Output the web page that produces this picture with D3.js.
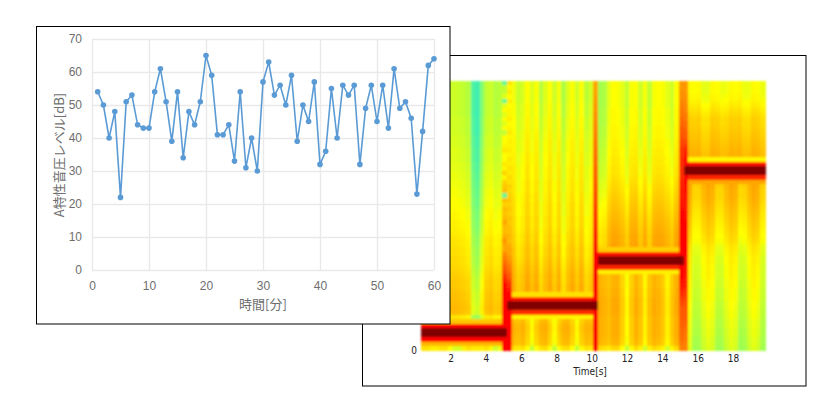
<!DOCTYPE html>
<html>
<head>
<meta charset="utf-8">
<script src="https://cdn.jsdelivr.net/npm/d3@7"></script>
<style>
  html, body { margin: 0; padding: 0; background: #fff; }
  svg { display: block; }
  text { font-family: "Noto Sans CJK JP", "Noto Sans", sans-serif; }
</style>
</head>
<body>
<div id="content"></div>
<script>
// Line chart: A-weighted level per minute
const minutes = d3.range(1, 61);
const levels = [54, 50, 40, 48, 22, 51, 53, 44, 43, 43, 54, 61, 51, 39, 54, 34, 48, 44, 51, 65,
                59, 41, 41, 44, 33, 54, 31, 40, 30, 57, 63, 53, 56, 50, 59, 39, 50, 45, 57, 32,
                36, 55, 40, 56, 53, 56, 32, 49, 56, 45, 56, 43, 61, 49, 51, 46, 23, 42, 62, 64];
const minuteTicks = [0, 10, 20, 30, 40, 50, 60];
const levelTicks = [0, 10, 20, 30, 40, 50, 60, 70];

// Spectrogram, read by eye. Levels run 0 (teal) to 8 (dark red), rows run bottom to top
const timeTicks = [2, 4, 6, 8, 10, 12, 14, 16, 18];
const heatStops = [0, 1, 2, 3, 4, 5, 6, 7, 8];
const heatColors = ['#40f0b0', '#80ff70', '#c0ff30', '#ffff00', '#ffd000', '#ffa500', '#ff5a00', '#ff0000', '#800000'];

const part1Rows = [3.6, 4.6, 7, 8, 8, 7, 4.2, 3.4, 4.3, 4.4, 4.3, 4.2, 4.2, 4.1, 4, 4, 3.9, 3.8, 3.7, 3.6,
                   3.6, 3.5, 3.5, 3.4, 3.4, 3.3, 3.2, 3.1, 3.1, 3, 3, 2.9, 2.8, 2.8, 2.7, 2.7, 2.6, 2.6, 2.5, 2.5,
                   2.4, 2.4, 2.3, 2.3, 2.3, 2.2, 2.2, 2.2, 2.1, 2.1, 2.1, 2.1, 2, 2, 2, 2, 2, 2, 2, 2];
const part1Low = [0, 0, -0.3, -0.3, 0, 0, -0.6, -1.2, -1.2, -0.3, 0, -0.2, -0.2, -0.3, 0, -0.5, -1.4, -0.8];
const part1High = [0, 0, 0.2, 0, 0, 0, 0.1, 0.2, 0.1, 0, -0.2, -1.8, -2.1, -1, 0, 0.2, -0.2, -0.1];

const part2Rows = [3.6, 4.4, 4.5, 4.6, 4.7, 4.7, 4.5, 3.2, 6.5, 8, 8, 6.8, 3.6, 4.6, 4.6, 4.5, 4.5, 4.4, 4.3, 4.2,
                   4.1, 4, 4, 3.9, 3.8, 3.8, 3.7, 3.6, 3.6, 3.6, 3.5, 3.5, 3.5, 3.4, 3.4, 3.3, 3.3, 3.3, 3.2, 3.2,
                   3.2, 3.1, 3.1, 3.1, 3, 3, 3, 2.9, 2.9, 2.8, 2.8, 2.8, 2.7, 2.7, 2.7, 2.6, 2.6, 2.6, 2.6, 2.6];
const part2Low = [0, -0.2, 0.1, -0.6, -1.6, -0.6, 0, 0.1, -0.6, -1.6, -0.6, 0, 0.1, -0.6, -1.6, -0.5, 0, -0.1];
const part2High = [0.2, -0.5, -0.2, 0.4, -0.2, 0.3, -0.8, -0.1, 0.4, -0.4, 0.3, -0.9, -0.1, 0.3, -0.4, 0.3, -0.7, -0.3];

const part3Rows = [3.8, 4.6, 4.7, 4.8, 4.8, 4.8, 4.8, 4.8, 4.9, 4.9, 4.9, 4.9, 4.8, 4.8, 4.7, 4.7, 4.7, 3.3, 6.6, 8,
                   8, 6.8, 4, 5, 4.9, 4.9, 4.8, 4.7, 4.6, 4.5, 4.4, 4.3, 4.2, 4.1, 4, 3.9, 3.8, 3.7, 3.6, 3.5,
                   3.5, 3.4, 3.4, 3.3, 3.3, 3.2, 3.2, 3.1, 3.1, 3.1, 3, 3, 3, 3, 2.9, 2.9, 2.9, 2.9, 2.9, 2.9];
const part3Low = [0, -0.2, -0.4, 0, 0, -0.8, -1.8, -0.7, 0, -0.5, -1.6, -0.5, 0, -0.2, -0.6, -1.5, -0.6, 0];
const part3High = [-1.4, -1.2, -0.3, 0.1, 0, -0.3, -0.9, 0, 0.1, -0.7, 0, -0.9, 0, 0.1, 0, -0.3, -0.7, 0.1];

const part4Rows = [2.3, 2.4, 2.4, 2.5, 2.5, 2.6, 2.6, 2.7, 2.7, 2.8, 2.8, 2.9, 2.9, 2.9, 3, 3, 3.1, 3.1, 3.1, 3.2,
                   3.2, 3.3, 3.4, 3.5, 3.7, 3.8, 3.9, 4, 4.1, 4.2, 4.3, 4.4, 4.5, 4.6, 4.7, 4.7, 4.8, 5, 6.6, 8,
                   8, 6.8, 3.2, 4.7, 4.6, 4.5, 4.4, 4.3, 4.2, 4.1, 4, 4, 3.8, 3.6, 3.4, 3.2, 3.1, 3, 3, 3];
const part4Low = [0.2, -0.8, -0.8, -0.2, 0.2, 0, -0.8, -0.8, -0.2, 0.2, 0, -0.9, -0.8, -0.2, 0.2, 0, -0.8];
const part4High = [0.1, 0, 0.1, -0.4, -0.4, 0.1, 0, -0.3, -0.2, 0.1, 0, 0.1, -0.3, -0.3, 0.1, 0, -0.3];

// Columns at the tone changes
const change1a = [7, 7, 7, 8, 8, 7, 7, 7, 7, 7, 7, 7, 7, 7, 7, 6.7, 6.5, 6.2, 6, 5.8,
                  5.6, 5.4, 5, 5, 5.2, 4.8, 4.5, 4.5, 5, 4.5, 4.3, 4.5, 4, 4.5, 0.5, 4.5, 4.2, 4, 3.2, 4,
                  3.2, 3.5, 3, 3, 3.5, 3.2, 3, 3, 2, 3, 2.5, 3, 2.5, 3, 2.5, 0.5, 2.5, 2, 2, 0.5];
const change1b = [7, 7, 7, 7, 7, 7, 7, 7, 7, 8, 8, 7, 7, 6.8, 6.5, 6.3, 6, 5.8, 5.6, 5.4,
                  5.2, 5, 5, 4.8, 4.5, 4.6, 4.4, 4.4, 4.2, 4.3, 4, 4.2, 4, 4.2, 4, 3.8, 4, 3.6, 3.8, 3.4,
                  3.6, 3.3, 3.5, 3.2, 3.4, 3.2, 3.3, 3.1, 3.4, 3.2, 3, 3.4, 3.1, 3.2, 3, 3.4, 3, 3.4, 3.1, 3.6];
const change2 = [7, 7, 7, 7, 7, 7, 7, 7, 7, 8, 8, 7, 7, 7, 7, 7, 7, 7, 7, 7,
                 7, 7, 6.8, 6.8, 6.7, 6.7, 6.6, 6.5, 6.5, 6.4, 6.4, 6.3, 6.3, 6.2, 6.2, 6.1, 6.1, 6, 6, 5.9,
                 5.9, 5.8, 5.8, 5.7, 5.7, 5.6, 5.6, 5.5, 5.5, 5.4, 5.4, 5.3, 5.3, 5.2, 5.2, 5.1, 5.1, 5, 5, 5];
const change3a = [5.5, 5.6, 5.7, 5.8, 5.8, 5.9, 5.9, 6, 6, 6, 6.2, 6.3, 6.5, 6.6, 6.8, 6.9, 7, 7, 7, 8,
                  8, 7, 7, 7, 7, 7, 7, 7, 7, 7, 7, 6.9, 6.8, 6.8, 6.7, 6.7, 6.6, 6.6, 6.5, 6.5,
                  6.5, 6.5, 6.5, 6.4, 6.4, 6.3, 6.2, 6.1, 6, 6, 5.8, 5.8, 5.6, 5.6, 5.5, 5.4, 5.3, 5.3, 5.2, 5.2];
const change3b = [5.5, 5.5, 5.6, 5.6, 5.7, 5.8, 5.9, 6, 6, 6, 6.1, 6.2, 6.3, 6.4, 6.6, 6.6, 6.7, 6.8, 6.8, 6.9,
                  6.9, 7, 7, 7, 7, 7, 7, 7, 7, 6.9, 6.9, 6.8, 6.8, 6.8, 6.8, 6.9, 6.9, 7, 7, 8,
                  8, 7, 7, 6.8, 6.6, 6.4, 6.2, 6, 6, 5.8, 5.8, 5.6, 5.6, 5.4, 5.4, 5.3, 5.3, 5.2, 5.2, 5.2];

let width = 840, height = 400;

let svg = d3.select('#content')
            .append('svg')
            .attr('width', width)
            .attr('height', height);

let soften = svg.append('defs').append('filter').attr('id', 'soften');
soften.append('feGaussianBlur').attr('stdDeviation', 0.8);

function drawSpectrogram() {
  let panel = {left: 362.5, top: 55.5, right: 806, bottom: 386};
  let plot = {left: 420.7, top: 80.5, right: 765, bottom: 350};

  svg.append('rect')
     .attr('x', panel.left)
     .attr('y', panel.top)
     .attr('width', panel.right - panel.left)
     .attr('height', panel.bottom - panel.top)
     .attr('fill', '#fff')
     .attr('stroke', '#000');

  let x = d3.scaleLinear().domain([0, 20]).range([415.4, 768.2]);
  let y = d3.scaleBand().domain(d3.range(60)).range([plot.bottom, plot.top]);
  let color = d3.scaleLinear().domain(heatStops).range(heatColors).clamp(true);

  // each stretch of time: [start, end, rows, low stripes, high stripes, tone row]
  let stretches = [
    [0.3, 4.93, part1Rows, part1Low, part1High, 4],
    [5.46, 10.07, part2Rows, part2Low, part2High, 10],
    [10.33, 14.94, part3Rows, part3Low, part3High, 20],
    [15.44, 19.82, part4Rows, part4Low, part4High, 40]
  ];
  let changes = [
    [4.93, 5.2, change1a],
    [5.2, 5.46, change1b],
    [10.07, 10.33, change2],
    [14.94, 15.2, change3a],
    [15.2, 15.44, change3b]
  ];

  let cells = [];
  stretches.forEach(([t0, t1, rows, low, high, tone]) => {
    let step = (t1 - t0) / low.length;
    low.forEach((_, col) => {
      rows.forEach((level, row) => {
        // the thin yellow strips next to the tone stay unstriped
        let nearTone = row >= tone - 3 && row <= tone + 2;
        let stripe = (level >= 5.5 || nearTone) ? 0 : (row < tone ? low[col] : high[col]);
        cells.push({t0: t0 + col * step, t1: t0 + (col + 1) * step, row: row, value: level + stripe});
      });
    });
  });
  changes.forEach(([t0, t1, rows]) => {
    rows.forEach((level, row) => cells.push({t0: t0, t1: t1, row: row, value: level}));
  });

  svg.append('g')
     .attr('filter', 'url(#soften)')
     .attr('shape-rendering', 'crispEdges')
     .selectAll('rect')
     .data(cells)
     .enter()
     .append('rect')
     .attr('x', (d) => x(d.t0))
     .attr('y', (d) => y(d.row))
     .attr('width', (d) => x(d.t1) - x(d.t0) + 0.5)
     .attr('height', y.bandwidth() + 0.5)
     .attr('fill', (d) => color(d.value));

  let axis = svg.append('g')
                .attr('transform', 'translate(0,' + plot.bottom + ')')
                .call(d3.axisBottom(x).tickValues(timeTicks).tickSize(0).tickPadding(5));
  axis.select('.domain').remove();
  axis.selectAll('text')
      .style('font-family', '"Liberation Sans Narrow", "DejaVu Sans Condensed", sans-serif')
      .style('font-size', '10px')
      .attr('fill', '#222');

  svg.append('text')
     .attr('x', 414)
     .attr('y', 353.5)
     .attr('text-anchor', 'middle')
     .style('font-family', '"Liberation Sans Narrow", "DejaVu Sans Condensed", sans-serif')
     .style('font-size', '10px')
     .attr('fill', '#222')
     .text('0');

  svg.append('text')
     .attr('x', 590)
     .attr('y', 375)
     .attr('text-anchor', 'middle')
     .style('font-family', '"Liberation Sans Narrow", "DejaVu Sans Condensed", sans-serif')
     .style('font-size', '10px')
     .attr('fill', '#222')
     .text('Time[s]');
}

function drawLineChart() {
  let panel = {left: 36.5, top: 26.5, right: 450, bottom: 324};
  let margin = {top: 39, right: 434, bottom: 270, left: 92};
  let grey = '#6e6e6e';

  svg.append('rect')
     .attr('x', panel.left)
     .attr('y', panel.top)
     .attr('width', panel.right - panel.left)
     .attr('height', panel.bottom - panel.top)
     .attr('fill', '#fff')
     .attr('stroke', '#000');

  let x = d3.scaleLinear().domain([0, 60]).range([margin.left, margin.right]);
  let y = d3.scaleLinear().domain([0, 70]).range([margin.bottom, margin.top]);

  let xAxis = svg.append('g')
                 .attr('transform', 'translate(0,' + margin.bottom + ')')
                 .call(d3.axisBottom(x)
                         .tickValues(minuteTicks)
                         .tickSize(margin.top - margin.bottom)
                         .tickPadding(11));
  let yAxis = svg.append('g')
                 .attr('transform', 'translate(' + margin.left + ',0)')
                 .call(d3.axisLeft(y)
                         .tickValues(levelTicks)
                         .tickSize(margin.left - margin.right)
                         .tickPadding(10));

  [xAxis, yAxis].forEach((axis) => {
    axis.select('.domain').remove();
    axis.selectAll('line').attr('stroke', '#e9e9e9').attr('stroke-width', 1.4);
    axis.selectAll('text')
        .style('font-family', '"Liberation Sans", sans-serif')
        .style('font-size', '12px')
        .attr('fill', grey);
  });

  let line = d3.line()
               .x((d, i) => x(minutes[i]))
               .y((d) => y(d));

  svg.append('path')
     .attr('d', line(levels))
     .attr('fill', 'none')
     .attr('stroke', '#5b9bd5')
     .attr('stroke-width', 1.6);

  svg.append('g')
     .selectAll('circle')
     .data(levels)
     .enter()
     .append('circle')
     .attr('r', 2.8)
     .attr('cx', (d, i) => x(minutes[i]))
     .attr('cy', (d) => y(d))
     .attr('fill', '#5b9bd5');

  svg.append('text')
     .attr('x', 263)
     .attr('y', 309)
     .attr('text-anchor', 'middle')
     .style('font-size', '13px')
     .attr('fill', grey)
     .text('時間[分]');

  svg.append('text')
     .attr('transform', 'translate(64,155) rotate(-90)')
     .attr('text-anchor', 'middle')
     .style('font-size', '13px')
     .attr('fill', grey)
     .text('A特性音圧レベル[dB]');
}

drawSpectrogram();
drawLineChart();
</script>
</body>
</html>
